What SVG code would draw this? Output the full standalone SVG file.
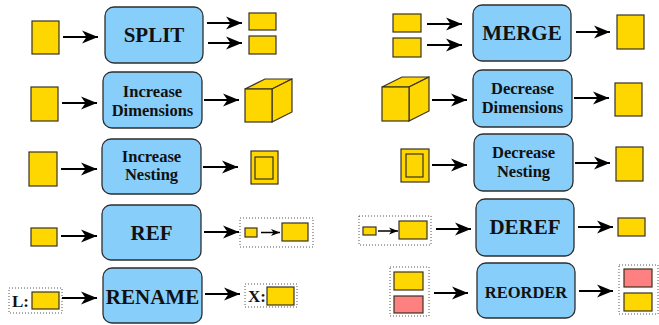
<svg xmlns="http://www.w3.org/2000/svg" width="659" height="325" viewBox="0 0 659 325">
  <defs>
    <marker id="head" markerUnits="userSpaceOnUse" markerWidth="17" markerHeight="14" refX="16" refY="7" orient="auto" overflow="visible">
      <path d="M0,0.5 L16,7 L0,13.5 L4.5,7 Z" fill="#000"/>
    </marker>
    <marker id="headSmall" markerUnits="userSpaceOnUse" markerWidth="10" markerHeight="8" refX="9" refY="4" orient="auto" overflow="visible">
      <path d="M0,0.5 L9,4 L0,7.5 L2.5,4 Z" fill="#000"/>
    </marker>
  </defs>
  <style>
    .op { fill: #87CEFB; stroke: #2e2e2e; stroke-width: 1.3; }
    .lbl { font-family: "Liberation Serif", "Times New Roman", serif; font-weight: bold; fill: #111; text-anchor: middle; }
    .big { font-size: 21px; }
    .two { font-size: 16.5px; }
    .tag { font-family: "Liberation Serif", "Times New Roman", serif; font-weight: bold; fill: #111; font-size: 17px; }
    .y { fill: #FFD700; stroke: #3a3220; stroke-width: 1.2; }
    .p { fill: #FF8080; stroke: #3a3220; stroke-width: 1.2; }
    .dot { fill: none; stroke: #555; stroke-width: 1; stroke-dasharray: 1 2; }
    .arr { stroke: #000; stroke-width: 2; fill: none; marker-end: url(#head); }
    .arrS { stroke: #000; stroke-width: 1.5; fill: none; marker-end: url(#headSmall); }
  </style>

  <!-- operation boxes -->
  <g id="split"><rect class="op" x="105" y="7" width="98" height="56" rx="9"/><text class="lbl big" x="154" y="42">SPLIT</text></g>
  <g id="increase-dimensions"><rect class="op" x="103" y="72" width="99" height="56" rx="9"/><text class="lbl two" x="152.5" y="97">Increase</text><text class="lbl two" x="152.5" y="116">Dimensions</text></g>
  <g id="increase-nesting"><rect class="op" x="102" y="139" width="99" height="55" rx="9"/><text class="lbl two" x="151.5" y="162">Increase</text><text class="lbl two" x="151.5" y="180">Nesting</text></g>
  <g id="ref"><rect class="op" x="102" y="205" width="99" height="55" rx="9"/><text class="lbl big" x="151.5" y="240">REF</text></g>
  <g id="rename"><rect class="op" x="103" y="268" width="99" height="55" rx="9"/><text class="lbl big" x="152.5" y="304">RENAME</text></g>

  <g id="merge"><rect class="op" x="473" y="5" width="98" height="56" rx="9"/><text class="lbl big" x="522" y="40">MERGE</text></g>
  <g id="decrease-dimensions"><rect class="op" x="473" y="70" width="99" height="57" rx="9"/><text class="lbl two" x="522.5" y="94">Decrease</text><text class="lbl two" x="522.5" y="113">Dimensions</text></g>
  <g id="decrease-nesting"><rect class="op" x="474" y="134" width="99" height="57" rx="9"/><text class="lbl two" x="523.5" y="158">Decrease</text><text class="lbl two" x="523.5" y="177">Nesting</text></g>
  <g id="deref"><rect class="op" x="476" y="199" width="98" height="57" rx="9"/><text class="lbl big" x="525" y="234">DEREF</text></g>
  <g id="reorder"><rect class="op" x="477" y="263" width="98" height="55" rx="9"/><text class="lbl" style="font-size:16.5px" x="526" y="298">REORDER</text></g>

  <!-- data shapes, inputs and outputs -->
  <g id="split-in"><rect class="y" x="32" y="21" width="27" height="33"/></g>
  <g id="split-out"><rect class="y" x="249" y="13" width="27" height="17"/><rect class="y" x="249" y="36" width="27" height="18"/></g>

  <g id="incdim-in"><rect class="y" x="31" y="87" width="27" height="34"/></g>
  <g id="incdim-out">
    <polygon class="y" points="245,89 265,79 292,79 272,89"/>
    <polygon class="y" points="272,89 292,79 292,112 272,122"/>
    <rect class="y" x="245" y="89" width="27" height="33"/>
  </g>

  <g id="incnest-in"><rect class="y" x="29" y="152" width="28" height="34"/></g>
  <g id="incnest-out"><rect class="y" x="251" y="151" width="27" height="33"/><rect class="y" x="255" y="157" width="18" height="22"/></g>

  <g id="ref-in"><rect class="y" x="31" y="228" width="26" height="18"/></g>
  <g id="ref-out">
    <rect class="dot" x="240" y="218" width="73" height="29"/>
    <rect class="y" x="245" y="228" width="12" height="9"/>
    <line class="arrS" x1="261" y1="232.5" x2="280" y2="232.5"/>
    <rect class="y" x="282" y="223" width="26" height="18"/>
  </g>

  <g id="rename-in">
    <rect class="dot" x="9" y="288" width="53" height="25"/>
    <text class="tag" x="12" y="307">L:</text>
    <rect class="y" x="32" y="292" width="27" height="17"/>
  </g>
  <g id="rename-out">
    <rect class="dot" x="245" y="284" width="52" height="23"/>
    <text class="tag" x="248" y="302">X:</text>
    <rect class="y" x="267" y="287" width="27" height="18"/>
  </g>

  <g id="merge-in"><rect class="y" x="393" y="14" width="28" height="18"/><rect class="y" x="393" y="38" width="28" height="19"/></g>
  <g id="merge-out"><rect class="y" x="617" y="15" width="27" height="34"/></g>

  <g id="decdim-in">
    <polygon class="y" points="382,87 402,77 429,77 409,87"/>
    <polygon class="y" points="409,87 429,77 429,111 409,121"/>
    <rect class="y" x="382" y="87" width="27" height="34"/>
  </g>
  <g id="decdim-out"><rect class="y" x="615" y="83" width="27" height="33"/></g>

  <g id="decnest-in"><rect class="y" x="401" y="149" width="28" height="33"/><rect class="y" x="406" y="154" width="17" height="23"/></g>
  <g id="decnest-out"><rect class="y" x="616" y="147" width="27" height="34"/></g>

  <g id="deref-in">
    <rect class="dot" x="359" y="216" width="72" height="29"/>
    <rect class="y" x="363" y="227" width="13" height="8"/>
    <line class="arrS" x1="378" y1="231" x2="398" y2="231"/>
    <rect class="y" x="399" y="221" width="28" height="18"/>
  </g>
  <g id="deref-out"><rect class="y" x="618" y="218" width="27" height="18"/></g>

  <g id="reorder-in">
    <rect class="dot" x="390" y="267" width="39" height="49"/>
    <rect class="y" x="394" y="272" width="29" height="18"/>
    <rect class="p" x="394" y="296" width="29" height="17"/>
  </g>
  <g id="reorder-out">
    <rect class="dot" x="619" y="265" width="39" height="49"/>
    <rect class="p" x="624" y="269" width="28" height="18"/>
    <rect class="y" x="624" y="293" width="28" height="18"/>
  </g>

  <!-- connectors -->
  <g id="connectors">
    <line class="arr" x1="63" y1="37" x2="98" y2="37"/>
    <line class="arr" x1="207" y1="23" x2="242" y2="23"/>
    <line class="arr" x1="208" y1="43" x2="242" y2="43"/>

    <line class="arr" x1="62" y1="103" x2="97" y2="103"/>
    <line class="arr" x1="204" y1="100" x2="239" y2="100"/>

    <line class="arr" x1="61" y1="169" x2="97" y2="169"/>
    <line class="arr" x1="203" y1="167" x2="238" y2="167"/>

    <line class="arr" x1="61" y1="236" x2="97" y2="236"/>
    <line class="arr" x1="204" y1="232" x2="239" y2="232"/>

    <line class="arr" x1="62" y1="298" x2="97" y2="298"/>
    <line class="arr" x1="205" y1="294" x2="240" y2="294"/>

    <line class="arr" x1="427" y1="24" x2="462" y2="24"/>
    <line class="arr" x1="427" y1="45" x2="462" y2="45"/>
    <line class="arr" x1="576" y1="32" x2="610" y2="32"/>

    <line class="arr" x1="432" y1="100" x2="467" y2="100"/>
    <line class="arr" x1="574" y1="98" x2="609" y2="98"/>

    <line class="arr" x1="432" y1="165" x2="467" y2="165"/>
    <line class="arr" x1="575" y1="163" x2="610" y2="163"/>

    <line class="arr" x1="436" y1="229" x2="471" y2="229"/>
    <line class="arr" x1="578" y1="227" x2="613" y2="227"/>

    <line class="arr" x1="434" y1="293" x2="468" y2="293"/>
    <line class="arr" x1="579" y1="291" x2="613" y2="291"/>
  </g>
</svg>
